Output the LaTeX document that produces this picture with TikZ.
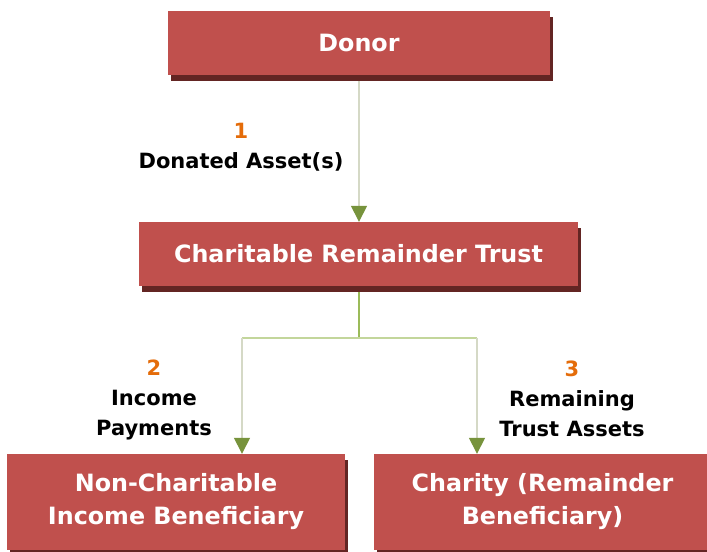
\documentclass[tikz,border=0pt]{standalone}
\usepackage{fontspec}
\setmainfont{DejaVu Sans}
\usepackage{tikz}
\usetikzlibrary{backgrounds}
\usetikzlibrary{arrows.meta}
\usetikzlibrary{shadows}
\definecolor{boxred}{HTML}{C0504D}
\definecolor{shadowred}{HTML}{632523}
\definecolor{stepnum}{HTML}{E46C0A}
\definecolor{tipgreen}{HTML}{77933C}
\definecolor{trunkgreen}{HTML}{9BBB59}
\definecolor{bargreen}{HTML}{C3D69B}
\definecolor{feedgrey}{HTML}{D5D9C6}
\tikzstyle{flow}=[x=1bp, y=-1bp]
\tikzstyle{party}=[rectangle, fill=boxred, text=white, inner sep=0pt, align=center, font=\fontsize{23.8bp}{33bp}\selectfont\bfseries, drop shadow={shadow xshift=3bp, shadow yshift=-6bp, fill=shadowred, opacity=1}]
\tikzstyle{note}=[align=center, inner sep=0pt, font=\fontsize{21bp}{30bp}\selectfont\bfseries]
\tikzstyle{feed}=[draw=feedgrey, line width=1.5bp, -{Triangle[width=16bp, length=16bp, color=tipgreen]}]
\tikzstyle{trunk}=[draw=trunkgreen, line width=1.5bp]
\tikzstyle{bar}=[draw=bargreen, line width=2.5bp]

\begin{document}
\begin{tikzpicture}[flow]
	\useasboundingbox (0,0) rectangle (707,552);
	%The parties
	\node[party, minimum width=382bp, minimum height=64bp] (donor) at (359,43) {Donor};
	\node[party, minimum width=439bp, minimum height=64bp] (crt) at (358.5,254) {Charitable Remainder Trust};
	\node[party, minimum width=338bp, minimum height=96bp] (income) at (176,502) {Non-Charitable\\Income Beneficiary};
	\node[party, minimum width=337bp, minimum height=96bp] (charity) at (542.5,502) {Charity (Remainder\\Beneficiary)};

	%The step labels
	\node[note] (lbl1) at (241,147) {\textcolor{stepnum}{1}\\Donated Asset(s)};
	\node[note] (lbl2) at (154,400) {\textcolor{stepnum}{2}\\Income\\Payments};
	\node[note] (lbl3) at (572,399) {\textcolor{stepnum}{3}\\Remaining\\Trust Assets};

	%The connectors
	\coordinate (split) at (359,338);
	\coordinate (left) at (242,338);
	\coordinate (right) at (477,338);
	\begin{scope}[on background layer]
	\draw[feed] (donor.south) -- (donor.south |- crt.north);
	\draw[trunk] (crt.south -| split) -- (split);
	\draw[bar] (left) -- (right);
	\draw[feed] (left) -- (left |- income.north);
	\draw[feed] (right) -- (right |- charity.north);
	\end{scope}
\end{tikzpicture}
\end{document}
